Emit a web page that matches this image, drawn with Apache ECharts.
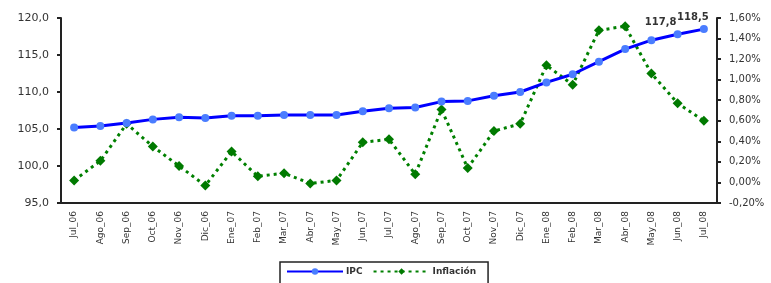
<!DOCTYPE html>
<html>
<head>
<meta charset="utf-8">
<script src="https://cdn.jsdelivr.net/npm/echarts@6/dist/echarts.min.js"></script>
<style>
  html, body { margin: 0; padding: 0; background: #fff; }
  #chart { width: 771px; height: 283px; }
</style>
</head>
<body>
<div id="chart"></div>
<script>
var months = ['Jul_06', 'Ago_06', 'Sep_06', 'Oct_06', 'Nov_06', 'Dic_06', 'Ene_07', 'Feb_07', 'Mar_07',
  'Abr_07', 'May_07', 'Jun_07', 'Jul_07', 'Ago_07', 'Sep_07', 'Oct_07', 'Nov_07', 'Dic_07',
  'Ene_08', 'Feb_08', 'Mar_08', 'Abr_08', 'May_08', 'Jun_08', 'Jul_08'];
// indice de precios (eje izq)
var ipc = [105.2, 105.4, 105.8, 106.3, 106.6, 106.5, 106.8, 106.8, 106.9, 106.9, 106.9, 107.4, 107.8,
  107.9, 108.7, 108.8, 109.5, 110.0, 111.3, 112.4, 114.1, 115.8, 117.0, 117.8, 118.5];
// inflacion mensual en % (eje der)
var inflacion = [0.02, 0.21, 0.57, 0.35, 0.16, -0.03, 0.30, 0.06, 0.09, -0.01, 0.02, 0.39, 0.42,
  0.08, 0.71, 0.14, 0.50, 0.57, 1.14, 0.95, 1.48, 1.52, 1.06, 0.77, 0.60];
var labeledIdx = [23, 24];

var txt = '#333';
var myChart = echarts.init(document.getElementById('chart'));

var ipcData = ipc.map(function (v, i) {
  if (labeledIdx.indexOf(i) < 0) return v;
  return {
    value: v,
    label: {
      show: true, position: 'top', offset: [i === 23 ? -17 : -11, 2],
      color: txt, fontSize: 10, fontWeight: 'bold', fontFamily: 'DejaVu Sans',
      formatter: function (p) { return p.value.toFixed(1).replace('.', ','); }
    }
  };
});

var option = {
  animation: false,
  grid: { left: 61, right: 54, top: 18, bottom: 80 },
  legend: {
    left: 280, top: 262,
    data: ['IPC', 'Inflación'],
    itemWidth: 56, itemHeight: 8, itemGap: 10,
    borderColor: '#222', borderWidth: 1.5, borderRadius: 0,
    padding: [5, 12, 10, 6],
    textStyle: { color: txt, fontSize: 9, fontWeight: 'bold', fontFamily: 'DejaVu Sans', padding: [0, 0, 0, -2] }
  },
  xAxis: {
    type: 'category',
    data: months,
    axisLine: { onZero: false, lineStyle: { color: '#222', width: 2 } },
    axisTick: { length: 4, lineStyle: { color: '#222', width: 2 } },
    axisLabel: { rotate: 90, margin: 8, color: txt, fontSize: 9, fontFamily: 'DejaVu Sans' }
  },
  yAxis: [
    {
      type: 'value', min: 95, max: 120, interval: 5,
      splitLine: { show: false },
      axisLine: { show: true, lineStyle: { color: '#222', width: 2 } },
      axisTick: { show: true, length: 4, lineStyle: { color: '#222', width: 2 } },
      axisLabel: {
        color: txt, fontSize: 11, margin: 12, fontFamily: 'DejaVu Sans',
        formatter: function (v) { return v.toFixed(1).replace('.', ','); }
      }
    },
    {
      type: 'value', min: -0.2, max: 1.6, interval: 0.2,
      splitLine: { show: false },
      axisLine: { show: true, lineStyle: { color: '#222', width: 2 } },
      axisTick: { show: true, length: 4, lineStyle: { color: '#222', width: 2 } },
      axisLabel: {
        color: txt, fontSize: 10, margin: 12, fontFamily: 'DejaVu Sans',
        formatter: function (v) { return v.toFixed(2).replace('.', ',') + '%'; }
      }
    }
  ],
  series: [
    {
      name: 'IPC', type: 'line', yAxisIndex: 0,
      data: ipcData,
      symbol: 'circle', symbolSize: 8,
      lineStyle: { color: '#0000ff', width: 3 },
      itemStyle: { color: '#4a7dff' },
      z: 3
    },
    {
      name: 'Inflación', type: 'line', yAxisIndex: 1,
      data: inflacion,
      symbol: 'diamond', symbolSize: 10,
      lineStyle: { color: '#008000', width: 3, type: [3, 4] },
      itemStyle: { color: '#007a00' },
      z: 2
    }
  ]
};
myChart.setOption(option);
</script>
</body>
</html>
